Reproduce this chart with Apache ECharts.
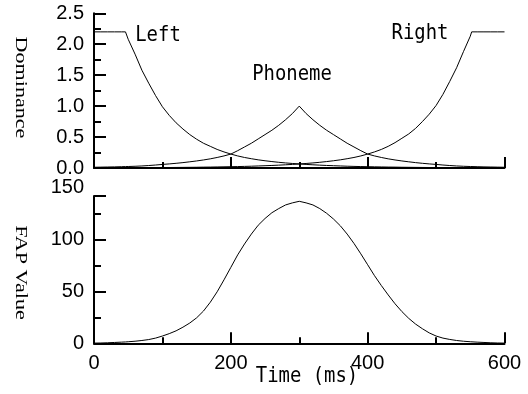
<!DOCTYPE html>
<html>
<head>
<meta charset="utf-8">
<script src="https://cdn.jsdelivr.net/npm/echarts@6/dist/echarts.min.js"></script>
<style>
  html, body { margin: 0; padding: 0; background: #fff; }
  #chart { width: 528px; height: 394px; }
</style>
</head>
<body>
<div id="chart"></div>
<script>
// time samples (ms), 46 and 552 are where the outer segments stop being flat
const timeMs = [0, 10, 20, 30, 40, 46, 50, 60, 70, 80, 90, 100, 110, 120, 130, 140, 150, 160, 170, 180, 190,
  200, 210, 220, 230, 240, 250, 260, 270, 280, 290, 300, 310, 320, 330, 340, 350, 360, 370, 380, 390,
  400, 410, 420, 430, 440, 450, 460, 470, 480, 490, 500, 510, 520, 530, 540, 550, 552, 560, 570, 580, 590, 600]

const leftDom = [2.2, 2.2, 2.2, 2.2, 2.2, 2.2, 2.08, 1.84, 1.58, 1.37, 1.17, 0.99, 0.85, 0.73, 0.63, 0.54,
  0.465, 0.40, 0.35, 0.30, 0.26, 0.225, 0.195, 0.17, 0.15, 0.132, 0.117, 0.104, 0.092, 0.082, 0.073, 0.065,
  0.058, 0.052, 0.046, 0.041, 0.037, 0.033, 0.029, 0.026, 0.023, 0.021, 0.019, 0.017, 0.015, 0.014, 0.012,
  0.011, 0.010, 0.009, 0.008, 0.007, 0.0065, 0.006, 0.0055, 0.005, 0.0045, 0.0044, 0.004, 0.0037, 0.0034,
  0.0031, 0.003]

const phonemeDom = [0.012, 0.014, 0.016, 0.018, 0.021, 0.023, 0.024, 0.028, 0.033, 0.040, 0.048, 0.058,
  0.066, 0.076, 0.087, 0.10, 0.114, 0.13, 0.148, 0.17, 0.195, 0.225, 0.28, 0.34, 0.40, 0.47, 0.54, 0.61,
  0.69, 0.78, 0.88, 1.0, 0.88, 0.78, 0.69, 0.61, 0.54, 0.47, 0.40, 0.34, 0.28, 0.225, 0.195, 0.17, 0.148,
  0.13, 0.114, 0.10, 0.087, 0.076, 0.066, 0.058, 0.048, 0.040, 0.033, 0.028, 0.024, 0.0235, 0.021, 0.018,
  0.016, 0.014, 0.012]

const rightDom = [0.003, 0.0031, 0.0034, 0.0037, 0.004, 0.0043, 0.0045, 0.005, 0.0055, 0.006, 0.0065, 0.007,
  0.008, 0.009, 0.010, 0.011, 0.012, 0.014, 0.015, 0.017, 0.019, 0.021, 0.023, 0.026, 0.029, 0.033, 0.037,
  0.041, 0.046, 0.052, 0.058, 0.065, 0.073, 0.082, 0.092, 0.104, 0.117, 0.132, 0.15, 0.17, 0.195, 0.225,
  0.26, 0.30, 0.35, 0.41, 0.48, 0.55, 0.64, 0.75, 0.87, 1.01, 1.19, 1.40, 1.62, 1.88, 2.13, 2.2, 2.2, 2.2,
  2.2, 2.2, 2.2]

const fapValue = [0.2, 0.3, 0.5, 0.8, 1.1, 1.3, 1.5, 2.0, 2.7, 3.6, 5.0, 7.0, 9.3, 12.0, 15.5, 19.5, 24.5,
  31, 39.5, 49.5, 61, 73, 85, 95.5, 105, 113.5, 120, 125.5, 129.5, 133, 135, 136.5, 135, 133, 129.5, 125,
  119.5, 113, 105, 96, 86, 75.5, 65, 55.5, 46.5, 38, 30.5, 24, 18.5, 14, 10, 7, 5, 3.7, 2.7, 2.0, 1.5, 1.4,
  1.1, 0.8, 0.5, 0.3, 0.2]

const domTickLabels = ['0.0', '0.5', '1.0', '1.5', '2.0', '2.5']
const fapTickLabels = ['0', '50', '100', '150']
const timeTickLabels = ['0', '200', '400', '600']

// lower axis stops a bit short of 150 in the original, its top label sits above the end
const fapAxisMax = 141.6

const black = '#000'
const tickFont = { color: black, fontFamily: 'Liberation Sans', fontSize: 20 }

function timeAxis(gridIndex, showLabels) {
  return {
    type: 'value', gridIndex, min: 0, max: 600, interval: 200,
    axisLine: { lineStyle: { color: black, width: 2 } },
    axisTick: { inside: true, length: 11, lineStyle: { color: black, width: 2 } },
    minorTick: { show: true, splitNumber: 2, length: 6, lineStyle: { color: black, width: 2 } },
    splitLine: { show: false },
    axisLabel: { show: showLabels, margin: 10, ...tickFont, formatter: (v, i) => timeTickLabels[i] },
  }
}

function lineSeries(values, xi, yi) {
  return {
    type: 'line', xAxisIndex: xi, yAxisIndex: yi,
    data: timeMs.map((t, i) => [t, values[i]]),
    symbol: 'none', smooth: false, silent: true,
    lineStyle: { color: black, width: 1 },
  }
}

function sideText(text, x, y) {
  return {
    type: 'text', x, y, rotation: -Math.PI / 2, scaleX: 1.3,
    style: { text, font: '17px "Liberation Serif"', fill: black, textAlign: 'center', textVerticalAlign: 'middle' },
  }
}

function monoText(text, x, y) {
  return {
    type: 'text', x, y, scaleX: 0.9,
    style: { text, font: '21px "DejaVu Sans Mono"', fill: black, textAlign: 'center', textVerticalAlign: 'middle' },
  }
}

const chart = echarts.init(document.getElementById('chart'))
chart.setOption({
  animation: false,
  backgroundColor: '#fff',
  grid: [
    { left: 94, width: 410.5, top: 13.3, height: 154.7 },
    { left: 94, width: 410.5, top: 196, height: 147.3 },
  ],
  xAxis: [timeAxis(0, false), timeAxis(1, true)],
  yAxis: [
    {
      type: 'value', gridIndex: 0, position: 'left', min: 0, max: 2.5, interval: 0.5,
      axisLine: { show: true, lineStyle: { color: black, width: 2 } },
      axisTick: { show: true, inside: true, length: 12, lineStyle: { color: black, width: 2 } },
      minorTick: { show: true, splitNumber: 2, length: 7, lineStyle: { color: black, width: 2 } },
      splitLine: { show: false },
      axisLabel: { margin: 10, ...tickFont, formatter: (v, i) => domTickLabels[i] },
    },
    {
      type: 'value', gridIndex: 1, position: 'left', min: 0, max: fapAxisMax, interval: 50,
      axisLine: { show: true, lineStyle: { color: black, width: 2 } },
      axisTick: { show: true, inside: true, length: 12, lineStyle: { color: black, width: 2 } },
      splitLine: { show: false },
      axisLabel: {
        margin: 10, ...tickFont,
        formatter: (v, i) => (v === fapAxisMax ? '{up|' + fapTickLabels[i] + '}' : fapTickLabels[i]),
        rich: { up: { ...tickFont, padding: [0, 0, 18, 0] } },
      },
    },
    {
      // short ticks every 25 on the lower axis
      type: 'value', gridIndex: 1, position: 'left', offset: 0, min: 0, max: fapAxisMax, interval: 25,
      axisLine: { show: false },
      axisTick: { show: true, inside: true, length: 7, lineStyle: { color: black, width: 2 } },
      splitLine: { show: false },
      axisLabel: { show: false },
    },
  ],
  series: [
    lineSeries(leftDom, 0, 0),
    lineSeries(phonemeDom, 0, 0),
    lineSeries(rightDom, 0, 0),
    lineSeries(fapValue, 1, 1),
  ],
  graphic: [
    sideText('Dominance', 20, 87.5),
    sideText('FAP Value', 20, 272.5),
    monoText('Left', 158, 36),
    monoText('Phoneme', 292, 75),
    monoText('Right', 420, 34),
    monoText('Time (ms)', 307, 377),
  ],
})
</script>
</body>
</html>
